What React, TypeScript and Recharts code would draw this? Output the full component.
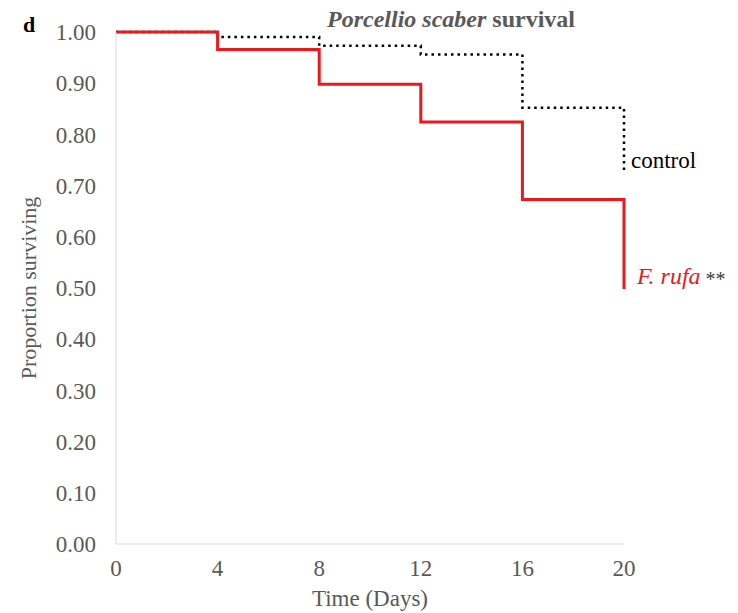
import { Customized, Line, LineChart, XAxis, YAxis, Label } from "recharts";

const days = [0, 4, 8, 12, 16, 20];
const controlSurvival = [1.0, 0.99, 0.973, 0.956, 0.852, 0.727];
const rufaSurvival = [1.0, 0.966, 0.898, 0.824, 0.673, 0.498];
const xTicks = [0, 4, 8, 12, 16, 20];
const yTicks = [0, 0.1, 0.2, 0.3, 0.4, 0.5, 0.6, 0.7, 0.8, 0.9, 1.0];

const data = days.map((day, i) => ({
  day,
  control: controlSurvival[i],
  rufa: rufaSurvival[i],
}));

const serif = "'Liberation Serif', 'Times New Roman', serif";
const axisGrey = "#d9d9d9";
const textGrey = "#595959";
const red = "#e8191f";

const Annotations = () => (
  <g fontFamily={serif}>
    <text x={23} y={32} fontSize={22} fontWeight="bold" fill="#000">d</text>
    <text x={451} y={27} fontSize={24} fontWeight="bold" fill={textGrey} textAnchor="middle">
      <tspan fontStyle="italic">Porcellio scaber</tspan>
      <tspan> survival</tspan>
    </text>
    <text x={631} y={168} fontSize={23} fill="#000">control</text>
    <text x={637} y={284} fontSize={24} fill={red}>
      <tspan fontStyle="italic">F. rufa</tspan>
      <tspan fill="#404040" fontSize={20} dy={2}> **</tspan>
    </text>
  </g>
);

const App = () => {
  return (
    <div style={{ position: "absolute", left: 0, top: 0, width: 738, height: 613, background: "#fff" }}>
      <LineChart width={738} height={613} data={data} margin={{ top: 32, right: 114, left: 0, bottom: 0 }}>
        <XAxis
          dataKey="day"
          type="number"
          domain={[0, 20]}
          ticks={xTicks}
          stroke={axisGrey}
          tickLine={false}
          tickSize={0}
          tickMargin={16}
          height={69}
          tick={{ fill: textGrey, fontSize: 23, fontFamily: serif }}
        >
          <Label value="Time (Days)" position="insideBottom" offset={7} fill={textGrey} fontSize={23} fontFamily={serif} />
        </XAxis>
        <YAxis
          type="number"
          domain={[0, 1]}
          ticks={yTicks}
          width={116}
          stroke={axisGrey}
          tickLine={false}
          tickSize={0}
          tickMargin={20}
          tickFormatter={(v: number) => v.toFixed(2)}
          tick={{ fill: textGrey, fontSize: 23, fontFamily: serif }}
        >
          <Label value="Proportion surviving" angle={-90} position="insideLeft" offset={28} fill={textGrey} fontSize={22} fontFamily={serif} style={{ textAnchor: "middle" }} />
        </YAxis>
        <Line type="stepAfter" dataKey="control" stroke="#000" strokeWidth={2.5} strokeDasharray="2.5 4" dot={false} isAnimationActive={false} />
        <Line type="stepAfter" dataKey="rufa" stroke={red} strokeWidth={3} dot={false} isAnimationActive={false} />
        <Customized component={Annotations} />
      </LineChart>
    </div>
  );
};

export default App;
